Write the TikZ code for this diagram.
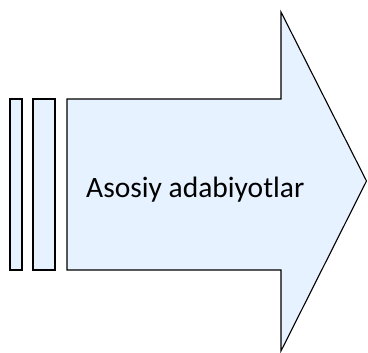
\documentclass[tikz,border=0pt]{standalone}
\usepackage{fontspec}
\setmainfont{Carlito}
\definecolor{fillblue}{RGB}{230,242,255}
\begin{document}
\begin{tikzpicture}[x=1pt,y=-1pt,
  shapebox/.style={draw=black,fill=fillblue,line width=1.1pt,line join=miter},
  lbl/.style={font=\fontsize{29.5}{33}\selectfont,inner sep=0pt,anchor=base west}]
\useasboundingbox (0,0) rectangle (368,353);
\draw[shapebox] (10,99) rectangle (22,270);
\draw[shapebox] (33,99) rectangle (55,270);
\draw[shapebox] (67,99) -- (281,99) -- (281,12) -- (366.5,181) -- (281,351) -- (281,270) -- (67,270) -- cycle;
\node[lbl] (t) at (86,198) {Asosiy adabiyotlar};
\end{tikzpicture}
\end{document}
